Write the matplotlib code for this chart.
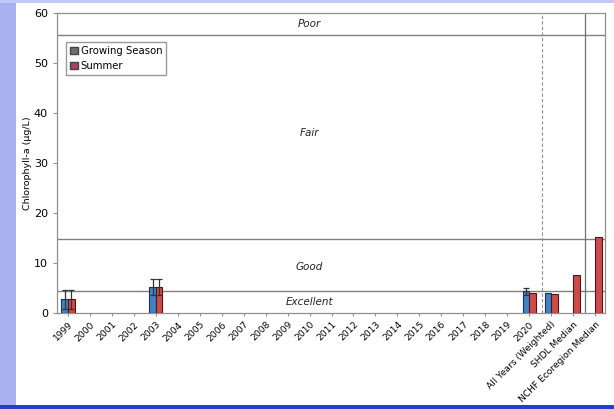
import numpy as np
import matplotlib.pyplot as plt
from matplotlib.patches import Patch, Rectangle

years = [str(y) for y in range(1999, 2021)]
categories = years + ["All Years (Weighted)", "SHDL Median", "NCHF Ecoregion Median"]

# Growing season / summer means (µg/L); NaN where no data
growing = {"1999": 2.8, "2003": 5.3, "2020": 4.4, "All Years (Weighted)": 4.1}
summer = {"1999": 2.8, "2003": 5.3, "2020": 4.1, "All Years (Weighted)": 3.9,
          "SHDL Median": 7.6, "NCHF Ecoregion Median": 15.3}
growing_err = {"1999": 1.9, "2003": 1.6, "2020": 0.7}
summer_err = {"1999": 1.9, "2003": 1.6}

# Trophic class boundaries and labels
class_bounds = [4.4, 14.8, 55.6]
class_labels = ["Excellent", "Good", "Fair", "Poor"]
class_label_y = [2.2, 9.2, 36.0, 57.8]

BLUE = '#3f84c6'
RED = '#cf4a4a'

fig = plt.figure(figsize=(6.14, 4.09), dpi=100)
fig.patch.set_facecolor('white')

# slide decoration: lavender left strip, top strip, blue bottom rule
fig.patches.append(Rectangle((0, 0), 0.026, 1, transform=fig.transFigure,
                             facecolor='#a9b0f0', edgecolor='none', zorder=0))
fig.patches.append(Rectangle((0, 0.993), 1, 0.007, transform=fig.transFigure,
                             facecolor='#c4c8f6', edgecolor='none', zorder=0))
fig.patches.append(Rectangle((0, 0), 1, 0.009, transform=fig.transFigure,
                             facecolor='#2b3cc4', edgecolor='none', zorder=0))

ax = fig.add_axes([0.0928, 0.2347, 0.8925, 0.7335])

x = np.arange(len(categories))
w = 0.3
g_vals = np.array([growing.get(c, np.nan) for c in categories])
s_vals = np.array([summer.get(c, np.nan) for c in categories])
g_err = np.array([growing_err.get(c, 0) for c in categories])
s_err = np.array([summer_err.get(c, 0) for c in categories])

ax.bar(x - w / 2, g_vals, w, color=BLUE, edgecolor='#1f2f55', linewidth=0.8, zorder=3)
ax.bar(x + w / 2, s_vals, w, color=RED, edgecolor='#4a1818', linewidth=0.8, zorder=3)
mask = g_err > 0
ax.errorbar(x[mask] - w / 2, g_vals[mask], yerr=g_err[mask], fmt='none',
            ecolor='#333333', elinewidth=0.9, capsize=2, capthick=0.9, zorder=4)
mask = s_err > 0
ax.errorbar(x[mask] + w / 2, s_vals[mask], yerr=s_err[mask], fmt='none',
            ecolor='#333333', elinewidth=0.9, capsize=2, capthick=0.9, zorder=4)

for b in class_bounds:
    ax.axhline(b, color='#808080', linewidth=1.0, zorder=2)
for lab, yy in zip(class_labels, class_label_y):
    ax.text(11, yy, lab, ha='center', va='center', style='italic',
            fontsize=7.5, color='#222222', zorder=5)

ax.axvline(21.6, color='#909090', linestyle=(0, (3, 2)), linewidth=0.8, zorder=2)
ax.axvline(23.55, color='#707070', linewidth=0.9, zorder=2)

ax.set_xlim(-0.5, 24.45)
ax.set_ylim(0, 60)
ax.set_yticks(range(0, 61, 10))
ax.set_xticks(x)
ax.set_xticklabels(categories, rotation=45, ha='right', rotation_mode='anchor',
                   fontsize=6.6)
ax.tick_params(axis='x', length=2, color='#909090', pad=3)
ax.tick_params(axis='y', labelsize=8, length=3, color='#909090')
ax.set_ylabel('Chlorophyll-a (µg/L)', fontsize=6.8, labelpad=1)
for s in ax.spines.values():
    s.set_color('#909090')
    s.set_linewidth(0.9)

handles = [Patch(facecolor='#6f6f6f', edgecolor='#444444'),
           Patch(facecolor='#b0405e', edgecolor='#444444')]
ax.legend(handles, ['Growing Season', 'Summer'], loc='upper left',
          bbox_to_anchor=(0.008, 0.92), fontsize=7.3, frameon=True, fancybox=False,
          edgecolor='#808080', handlelength=0.7, handleheight=0.7, handletextpad=0.3,
          borderpad=0.4, labelspacing=0.5)

fig.savefig('out.png', dpi=100)
